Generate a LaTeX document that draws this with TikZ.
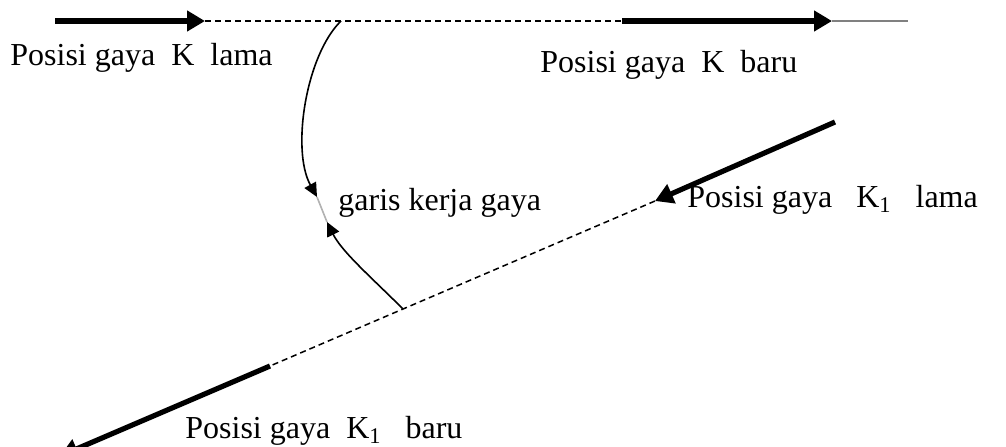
\documentclass[tikz,border=0pt]{standalone}
\usepackage{fontspec}
\setmainfont{Liberation Serif}
\usetikzlibrary{arrows.meta}
\begin{document}
\begin{tikzpicture}[x=0.5pt,y=-0.5pt,
  force/.style={line width=2.6pt,-{Triangle[length=9pt,width=10pt]}},
  dashline/.style={line width=0.75pt,dash pattern=on 3pt off 2pt},
  curvearrow/.style={line width=0.8pt,-{Triangle[length=7pt,width=6.5pt]}},
  lbl/.style={anchor=base west,inner sep=0pt,font=\fontsize{16}{19}\selectfont}]
\useasboundingbox (0,0) rectangle (1006,446);
% top line
\coordinate (a0) at (55,21);
\coordinate (a1) at (205,21);
\coordinate (a2) at (622,21);
\coordinate (a3) at (832,21);
\coordinate (a4) at (908,21);
\coordinate (c0) at (341,21);
\draw[force] (a0) -- (a1);
\draw[dashline] (a1) -- (a2);
\draw[force] (a2) -- (a3);
\draw[gray,line width=0.7pt] (a3) -- (a4);
% slanted line
\coordinate (b0) at (835,122);
\coordinate (b1) at (655,201);
\coordinate (b2) at (270,366);
\coordinate (b3) at (60,456);
\coordinate (c1) at (403,309);
\draw[force] (b0) -- (b1);
\draw[dashline] (b1) -- (b2);
\draw[force] (b2) -- (b3);
% curve
\coordinate (t1) at (317,197);
\coordinate (t2) at (327,222);
\draw[curvearrow] (c0) .. controls (306,55) and (291,150) .. (t1);
\draw[gray!60,line width=0.8pt] (t1) -- (t2);
\draw[curvearrow] (c1) .. controls (372,278) and (342,252) .. (t2);
% labels
\node[lbl] (l1) at (10,65) {Posisi gaya\ \ K\ \ lama};
\node[lbl] (l2) at (540,72) {Posisi gaya\ \ K\ \ baru};
\node[lbl] (l3) at (338,210) {garis kerja gaya};
\node[lbl] (l4) at (687,207) {Posisi gaya\ \ \ K\textsubscript{1}\ \ \ lama};
\node[lbl] (l5) at (185,438) {Posisi gaya\ \ K\textsubscript{1}\ \ \ baru};
\end{tikzpicture}
\end{document}
